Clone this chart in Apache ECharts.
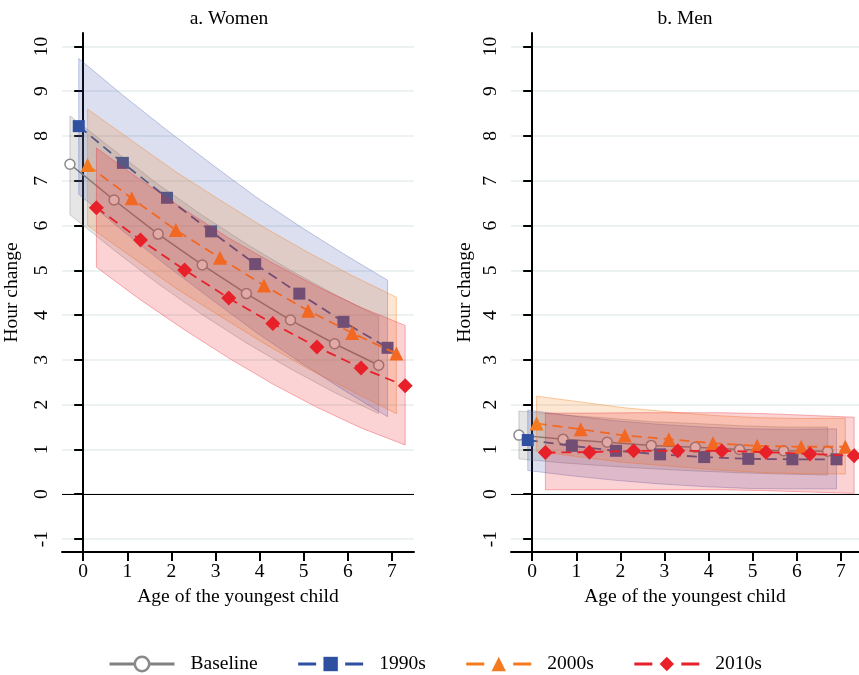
<!DOCTYPE html>
<html>
<head>
<meta charset="utf-8">
<script src="https://cdn.jsdelivr.net/npm/echarts@6/dist/echarts.min.js"></script>
<style>html,body{margin:0;padding:0;background:#fff}#c{width:859px;height:675px}</style>
</head>
<body>
<div id="c"></div>
<script>
// ---- data ----
const ages = [0, 1, 2, 3, 4, 5, 6, 7];
const seriesNames = ['Baseline', '1990s', '2000s', '2010s'];
const panelTitles = ['a. Women', 'b. Men'];
const xTicks = [0, 1, 2, 3, 4, 5, 6, 7];
const yTicks = [-1, 0, 1, 2, 3, 4, 5, 6, 7, 8, 9, 10];

// Women
const womenBaseline   = [7.37, 6.57, 5.81, 5.12, 4.48, 3.89, 3.36, 2.88];
const womenBaselineLo = [6.24, 5.45, 4.70, 4.01, 3.38, 2.80, 2.27, 1.80];
const womenBaselineHi = [8.45, 7.68, 6.92, 6.23, 5.59, 5.00, 4.46, 3.97];
const women1990   = [8.22, 7.40, 6.62, 5.87, 5.14, 4.48, 3.85, 3.27];
const women1990Lo = [6.70, 5.88, 5.10, 4.36, 3.63, 2.96, 2.33, 1.73];
const women1990Hi = [9.73, 8.91, 8.13, 7.38, 6.65, 5.99, 5.37, 4.78];
const women2000   = [7.35, 6.61, 5.90, 5.28, 4.66, 4.10, 3.60, 3.14];
const women2000Lo = [6.00, 5.30, 4.60, 3.98, 3.37, 2.80, 2.30, 1.80];
const women2000Hi = [8.60, 7.90, 7.20, 6.57, 5.96, 5.40, 4.88, 4.40];
const women2010   = [6.40, 5.68, 5.01, 4.38, 3.81, 3.29, 2.82, 2.42];
const women2010Lo = [5.07, 4.34, 3.67, 3.04, 2.46, 1.94, 1.48, 1.10];
const women2010Hi = [7.73, 7.02, 6.35, 5.72, 5.16, 4.64, 4.17, 3.77];

// Men
const menBaseline   = [1.32, 1.23, 1.16, 1.09, 1.05, 1.00, 0.97, 0.96];
const menBaselineLo = [0.79, 0.70, 0.63, 0.57, 0.52, 0.48, 0.45, 0.43];
const menBaselineHi = [1.86, 1.77, 1.70, 1.62, 1.58, 1.53, 1.50, 1.50];
const men1990   = [1.21, 1.08, 0.97, 0.89, 0.83, 0.79, 0.78, 0.78];
const men1990Lo = [0.53, 0.41, 0.31, 0.23, 0.17, 0.13, 0.12, 0.12];
const men1990Hi = [1.88, 1.75, 1.64, 1.56, 1.50, 1.46, 1.45, 1.46];
const men2000   = [1.58, 1.45, 1.31, 1.23, 1.14, 1.08, 1.06, 1.06];
const men2000Lo = [0.96, 0.83, 0.71, 0.63, 0.55, 0.49, 0.46, 0.45];
const men2000Hi = [2.19, 2.06, 1.93, 1.84, 1.76, 1.71, 1.69, 1.70];
const men2010   = [0.93, 0.94, 0.97, 0.97, 0.97, 0.94, 0.90, 0.86];
const men2010Lo = [0.10, 0.10, 0.10, 0.10, 0.10, 0.08, 0.05, 0.02];
const men2010Hi = [1.81, 1.81, 1.82, 1.82, 1.82, 1.80, 1.76, 1.72];

// ---- styling ----
const FONT = '"Liberation Serif", "DejaVu Serif", serif';
const FS = 19.5;
const xShift = [-0.3, -0.1, 0.1, 0.3];
const lineColors = ['#808080', '#2f4fa0', '#f47a20', '#e8202a'];
const bandFill = ['rgba(128,128,128,0.20)', 'rgba(55,80,170,0.18)', 'rgba(245,130,32,0.20)', 'rgba(235,35,45,0.20)'];
const bandStroke = ['rgba(128,128,128,0.35)', 'rgba(55,80,170,0.30)', 'rgba(245,130,32,0.40)', 'rgba(235,35,45,0.35)'];
const symbols = ['circle', 'rect', 'triangle', 'diamond'];
const symbolSizes = [10, 12, 14, 15];

const panels = [
  [[womenBaseline, womenBaselineLo, womenBaselineHi], [women1990, women1990Lo, women1990Hi],
   [women2000, women2000Lo, women2000Hi], [women2010, women2010Lo, women2010Hi]],
  [[menBaseline, menBaselineLo, menBaselineHi], [men1990, men1990Lo, men1990Hi],
   [men2000, men2000Lo, men2000Hi], [men2010, men2010Lo, men2010Hi]]
];

function makeBand(rows, color, stroke, gi, z) {
  return {
    type: 'custom',
    xAxisIndex: gi, yAxisIndex: gi,
    silent: true,
    z: z,
    data: rows,
    encode: { x: 0, y: [1, 2] },
    renderItem: function (params, api) {
      if (params.dataIndex !== 0) return null;
      const pts = [];
      for (let j = 0; j < rows.length; j++) pts.push(api.coord([rows[j][0], rows[j][2]]));
      for (let j = rows.length - 1; j >= 0; j--) pts.push(api.coord([rows[j][0], rows[j][1]]));
      return { type: 'polygon', shape: { points: pts }, style: { fill: color, stroke: stroke, lineWidth: 1 } };
    }
  };
}

const series = [];
panels.forEach(function (panel, gi) {
  panel.forEach(function (grp, i) {
    const vals = grp[0], lo = grp[1], hi = grp[2];
    const rows = ages.map(function (a, j) { return [a + xShift[i], lo[j], hi[j]]; });
    series.push(makeBand(rows, bandFill[i], bandStroke[i], gi, 2 * i + 2));
    const s = {
      type: 'line',
      name: seriesNames[i],
      xAxisIndex: gi, yAxisIndex: gi,
      data: ages.map(function (a, j) { return [a + xShift[i], vals[j]]; }),
      symbol: symbols[i],
      symbolSize: symbolSizes[i],
      showAllSymbol: true,
      silent: true,
      lineStyle: { color: lineColors[i], width: i === 0 ? 1.5 : 1.8, type: i === 0 ? 'solid' : [10, 6] },
      itemStyle: i === 0 ? { color: '#fff', borderColor: '#8a8a8a', borderWidth: 1.5 } : { color: lineColors[i], borderWidth: 0 },
      emphasis: { disabled: true },
      z: 2 * i + 3
    };
    if (i === 0) {
      s.markLine = {
        silent: true, symbol: 'none', label: { show: false }, z: 1,
        lineStyle: { color: '#000', width: 1, type: 'solid' },
        data: [{ yAxis: 0 }]
      };
    }
    series.push(s);
  });
});

function xAxisCfg(gi, max) {
  return {
    type: 'value', gridIndex: gi, min: -0.48, max: max,
    name: 'Age of the youngest child', nameLocation: 'middle', nameGap: 34,
    nameTextStyle: { fontFamily: FONT, fontSize: FS, color: '#000' },
    axisLine: { show: true, onZero: false, lineStyle: { color: '#000', width: 2 } },
    axisTick: { show: true, length: 9, lineStyle: { color: '#000', width: 2 }, customValues: xTicks },
    axisLabel: { fontFamily: FONT, fontSize: FS, color: '#000', margin: 10, customValues: xTicks },
    splitLine: { show: false }
  };
}
function yAxisCfg(gi, gap) {
  return {
    type: 'value', gridIndex: gi, min: -1.29, max: 10.3,
    name: 'Hour change', nameLocation: 'middle', nameGap: gap,
    nameTextStyle: { fontFamily: FONT, fontSize: FS, color: '#000' },
    axisLine: { show: true, lineStyle: { color: '#000', width: 2 } },
    axisTick: { show: true, length: 9, lineStyle: { color: '#000', width: 2 }, customValues: yTicks },
    axisLabel: { fontFamily: FONT, fontSize: FS, color: '#000', margin: 10, rotate: 90, customValues: yTicks },
    splitLine: { show: true, lineStyle: { color: '#e6eeed', width: 1.5 } }
  };
}

const chart = echarts.init(document.getElementById('c'), null, { renderer: 'canvas' });
chart.setOption({
  animation: false,
  backgroundColor: '#fff',
  title: [
    { text: panelTitles[0], left: 224, top: 4, textAlign: 'center', textStyle: { fontFamily: FONT, fontSize: FS, fontWeight: 'normal', color: '#000' } },
    { text: panelTitles[1], left: 680, top: 4, textAlign: 'center', textStyle: { fontFamily: FONT, fontSize: FS, fontWeight: 'normal', color: '#000' } }
  ],
  grid: [
    { left: 62, top: 33, width: 352, height: 519 },
    { left: 511, top: 33, width: 348, height: 519 }
  ],
  xAxis: [xAxisCfg(0, 7.5), xAxisCfg(1, 7.41)],
  yAxis: [yAxisCfg(0, 40), yAxisCfg(1, 36)],
  legend: {
    left: 108, top: 654, padding: 0,
    itemWidth: 65, itemHeight: 18, itemGap: 39,
    selectedMode: false,
    textStyle: { fontFamily: FONT, fontSize: FS, color: '#000', padding: [0, 0, 0, 11] },
    data: [
      { name: seriesNames[0], lineStyle: { width: 3, type: 'solid' }, itemStyle: { borderWidth: 2.5 } },
      { name: seriesNames[1], lineStyle: { width: 3, type: [18, 29] } },
      { name: seriesNames[2], lineStyle: { width: 3, type: [18, 29] } },
      { name: seriesNames[3], lineStyle: { width: 3, type: [18, 29] } }
    ]
  },
  series: series
});
</script>
</body>
</html>
